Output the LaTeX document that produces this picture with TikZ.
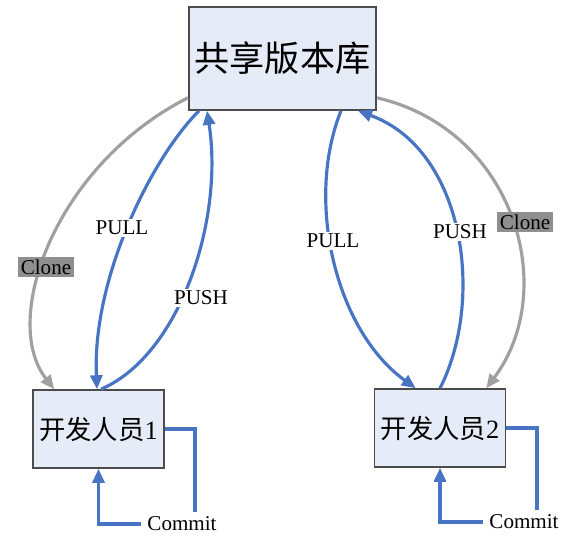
\documentclass[tikz,border=0pt]{standalone}
\usepackage{fontspec}
\setmainfont{Liberation Serif}
\newfontfamily\cjk{Noto Sans CJK SC}
\usetikzlibrary{arrows.meta}

\definecolor{flowblue}{HTML}{4775C3}
\definecolor{clonegray}{HTML}{A0A0A0}
\definecolor{labelgray}{HTML}{8F8F8F}
\definecolor{boxfill}{HTML}{E6ECF7}

\tikzset{
  repo/.style={draw=black!70, fill=boxfill, line width=0.9pt, minimum width=3.74cm,
    minimum height=2.06cm, font=\cjk\fontsize{20}{24}\selectfont},
  dev/.style={draw=black!70, fill=boxfill, line width=0.9pt, minimum width=2.62cm,
    minimum height=1.56cm, font=\fontsize{15}{18}\selectfont},
  tip/.style={-{Triangle[length=0.28cm,width=0.24cm]}},
  flow/.style={draw=flowblue, line width=1.8pt, tip},
  plain/.style={draw=flowblue, line width=1.8pt},
  clone/.style={draw=clonegray, line width=1.8pt, tip},
  lbl/.style={fill=white, inner sep=1pt, font=\fontsize{12}{14}\selectfont},
  clonelbl/.style={fill=labelgray, inner sep=1.5pt, font=\fontsize{12}{14}\selectfont}
}

\begin{document}
\begin{tikzpicture}[x=0.02cm,y=-0.02cm]
\useasboundingbox (0,0) rectangle (588,552);

% boxes
\node[repo] (repo) at (282.5,58.5) {共享版本库};
\node[dev] (dev1) at (98.5,429) {{\cjk 开发人员}1};
\node[dev] (dev2) at (440,428) {{\cjk 开发人员}2};

% clone
\draw[clone] ([yshift=0.26cm]repo.south west) .. controls (55,165) and (0,320) .. ([xshift=0.44cm]dev1.north west);
\draw[clone] ([yshift=0.26cm]repo.south east) .. controls (515,130) and (560,290) .. ([xshift=-0.4cm]dev2.north east);
\node[clonelbl] (clone1) at (46,267) {Clone};
\node[clonelbl] (clone2) at (525,222) {Clone};

% pull / push, left
\draw[flow] ([xshift=0.22cm]repo.south west) .. controls (150,160) and (92,280) .. ([xshift=-0.03cm]dev1.north);
\draw[flow] ([xshift=0.05cm]dev1.north) .. controls (180,355) and (224,220) .. ([xshift=0.38cm]repo.south west);
\node[lbl] (pull1) at (122,228) {PULL};
\node[lbl] (push1) at (201,298) {PUSH};

% pull / push, right
\draw[flow] ([xshift=-0.72cm]repo.south east) .. controls (305,200) and (335,330) .. ([xshift=0.84cm]dev2.north west);
\draw[flow] (dev2.north) .. controls (485,300) and (465,150) .. ([xshift=-0.38cm]repo.south east);
\node[lbl] (pull2) at (333,241) {PULL};
\node[lbl] (push2) at (460,232) {PUSH};

% commit
\node[font=\fontsize{12}{14}\selectfont] (commit1) at (182,524) {Commit};
\node[font=\fontsize{12}{14}\selectfont] (commit2) at (524,522) {Commit};
\coordinate (c1) at (195,512);
\coordinate (c2) at (537,510);
\draw[plain] (dev1.east) -| (c1);
\draw[flow] (commit1.west) -| (dev1.south);
\draw[plain] (dev2.east) -| (c2);
\draw[flow] (commit2.west) -| (dev2.south);
\end{tikzpicture}
\end{document}
